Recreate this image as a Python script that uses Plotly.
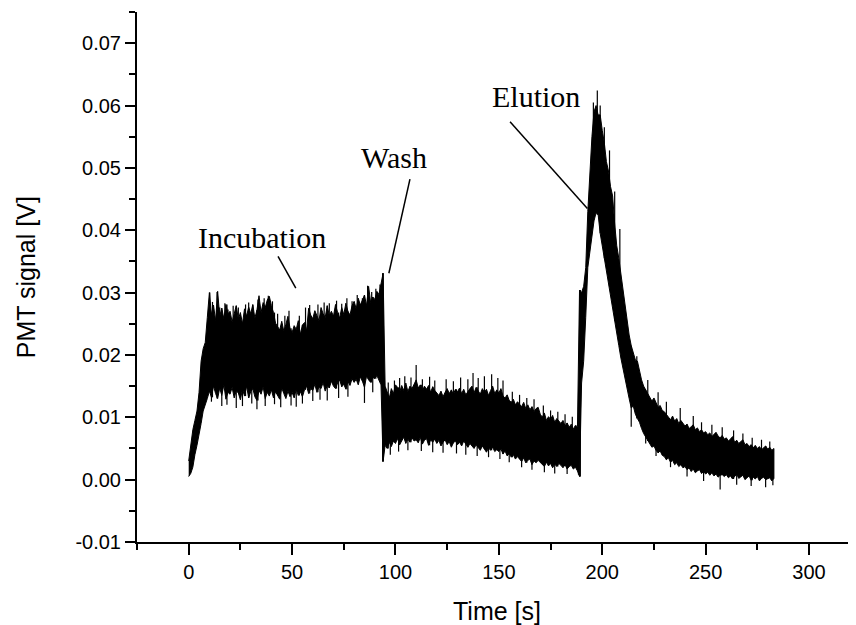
import plotly.graph_objects as go

# ---- data (envelope of the noisy PMT trace, 1 s sampling) ----
time_s = list(range(0, 284))

upper_V = [
    # 0-9 (rise)
    0.0030, 0.0060, 0.0080, 0.0095, 0.0110, 0.0140, 0.0190, 0.0210, 0.0220, 0.0260,
    # 10-19
    0.0300, 0.0265, 0.0280, 0.0255, 0.0302, 0.0262, 0.0275, 0.0258, 0.0281, 0.0266,
    # 20-29
    0.0270, 0.0253, 0.0264, 0.0279, 0.0257, 0.0268, 0.0250, 0.0274, 0.0262, 0.0277,
    # 30-39
    0.0266, 0.0281, 0.0259, 0.0272, 0.0295, 0.0268, 0.0284, 0.0276, 0.0288, 0.0294,
    # 40-49
    0.0279, 0.0268, 0.0251, 0.0246, 0.0240, 0.0254, 0.0238, 0.0249, 0.0262, 0.0243,
    # 50-59
    0.0236, 0.0247, 0.0241, 0.0255, 0.0233, 0.0248, 0.0252, 0.0239, 0.0275, 0.0264,
    # 60-69
    0.0258, 0.0271, 0.0262, 0.0255, 0.0276, 0.0266, 0.0260, 0.0279, 0.0263, 0.0270,
    # 70-79
    0.0262, 0.0281, 0.0268, 0.0259, 0.0276, 0.0265, 0.0283, 0.0270, 0.0264, 0.0279,
    # 80-89
    0.0286, 0.0274, 0.0291, 0.0280, 0.0288, 0.0296, 0.0279, 0.0310, 0.0284, 0.0293,
    # 90-99 (wash step at 94)
    0.0289, 0.0302, 0.0297, 0.0315, 0.0331, 0.0150, 0.0142, 0.0131, 0.0146, 0.0138,
    # 100-109
    0.0152, 0.0148, 0.0140, 0.0151, 0.0143, 0.0155, 0.0141, 0.0150, 0.0146, 0.0153,
    # 110-119
    0.0160, 0.0147, 0.0152, 0.0142, 0.0150, 0.0145, 0.0151, 0.0140, 0.0149, 0.0143,
    # 120-129
    0.0139, 0.0135, 0.0142, 0.0133, 0.0140, 0.0146, 0.0138, 0.0144, 0.0137, 0.0145,
    # 130-139
    0.0141, 0.0147, 0.0138, 0.0145, 0.0136, 0.0142, 0.0146, 0.0150, 0.0139, 0.0148,
    # 140-149
    0.0143, 0.0137, 0.0146, 0.0140, 0.0145, 0.0135, 0.0143, 0.0150, 0.0138, 0.0144,
    # 150-159
    0.0139, 0.0146, 0.0134, 0.0131, 0.0136, 0.0127, 0.0124, 0.0129, 0.0120, 0.0125,
    # 160-169
    0.0121, 0.0117, 0.0124, 0.0114, 0.0120, 0.0112, 0.0117, 0.0109, 0.0114, 0.0116,
    # 170-179
    0.0105, 0.0100, 0.0107, 0.0095, 0.0101, 0.0097, 0.0103, 0.0092, 0.0098, 0.0094,
    # 180-188
    0.0090, 0.0095, 0.0086, 0.0091, 0.0084, 0.0089, 0.0081, 0.0087, 0.0085,
    # 189-198 (elution)
    0.0304, 0.0300, 0.0310, 0.0340, 0.0430, 0.0500, 0.0550, 0.0590, 0.0600, 0.0585,
    # 199-208
    0.0585, 0.0560, 0.0540, 0.0510, 0.0495, 0.0470, 0.0455, 0.0410, 0.0375, 0.0355,
    # 209-219
    0.0330, 0.0310, 0.0285, 0.0255, 0.0232, 0.0215, 0.0205, 0.0192, 0.0190, 0.0172, 0.0160,
    # 220-229
    0.0150, 0.0144, 0.0137, 0.0130, 0.0126, 0.0131, 0.0122, 0.0116, 0.0119, 0.0111,
    # 230-239
    0.0109, 0.0104, 0.0101, 0.0096, 0.0102, 0.0094, 0.0098, 0.0090, 0.0095, 0.0091,
    # 240-249
    0.0086, 0.0089, 0.0082, 0.0085, 0.0088, 0.0080, 0.0083, 0.0077, 0.0080, 0.0075,
    # 250-259
    0.0077, 0.0072, 0.0075, 0.0069, 0.0073, 0.0076, 0.0070, 0.0067, 0.0071, 0.0065,
    # 260-269
    0.0067, 0.0062, 0.0065, 0.0069, 0.0060, 0.0063, 0.0058, 0.0061, 0.0064, 0.0056,
    # 270-279
    0.0058, 0.0053, 0.0056, 0.0051, 0.0055, 0.0050, 0.0053, 0.0048, 0.0051, 0.0054,
    # 280-283
    0.0049, 0.0052, 0.0047, 0.0050,
]

lower_V = [
    # 0-9
    0.0005, 0.0010, 0.0020, 0.0040, 0.0055, 0.0070, 0.0090, 0.0110, 0.0120, 0.0130,
    # 10-19
    0.0142, 0.0132, 0.0150, 0.0138, 0.0130, 0.0147, 0.0135, 0.0152, 0.0129, 0.0140,
    # 20-29
    0.0137, 0.0148, 0.0131, 0.0143, 0.0139, 0.0128, 0.0145, 0.0134, 0.0150, 0.0131,
    # 30-39
    0.0141, 0.0146, 0.0133, 0.0127, 0.0143, 0.0137, 0.0149, 0.0130, 0.0140, 0.0134,
    # 40-49
    0.0144, 0.0131, 0.0141, 0.0136, 0.0129, 0.0147, 0.0138, 0.0130, 0.0142, 0.0133,
    # 50-59
    0.0140, 0.0131, 0.0145, 0.0135, 0.0141, 0.0133, 0.0144, 0.0150, 0.0138, 0.0146,
    # 60-69
    0.0143, 0.0153, 0.0140, 0.0149, 0.0146, 0.0156, 0.0142, 0.0151, 0.0147, 0.0158,
    # 70-79
    0.0150, 0.0146, 0.0155, 0.0160, 0.0149, 0.0153, 0.0145, 0.0158, 0.0151, 0.0162,
    # 80-89
    0.0156, 0.0161, 0.0152, 0.0165, 0.0158, 0.0148, 0.0166, 0.0160, 0.0156, 0.0164,
    # 90-99
    0.0162, 0.0167, 0.0159, 0.0152, 0.0029, 0.0055, 0.0050, 0.0060, 0.0053, 0.0062,
    # 100-109
    0.0058, 0.0066, 0.0056, 0.0063, 0.0068, 0.0058, 0.0065, 0.0060, 0.0067, 0.0062,
    # 110-119
    0.0064, 0.0059, 0.0068, 0.0057, 0.0063, 0.0066, 0.0055, 0.0064, 0.0060, 0.0065,
    # 120-129
    0.0058, 0.0063, 0.0054, 0.0060, 0.0064, 0.0056, 0.0061, 0.0052, 0.0059, 0.0062,
    # 130-139
    0.0056, 0.0060, 0.0054, 0.0062, 0.0057, 0.0052, 0.0058, 0.0055, 0.0050, 0.0056,
    # 140-149
    0.0052, 0.0047, 0.0054, 0.0049, 0.0044, 0.0051, 0.0047, 0.0052, 0.0045, 0.0048,
    # 150-159
    0.0045, 0.0049, 0.0041, 0.0046, 0.0038, 0.0042, 0.0036, 0.0040, 0.0033, 0.0037,
    # 160-169
    0.0033, 0.0029, 0.0035, 0.0027, 0.0031, 0.0033, 0.0024, 0.0030, 0.0027, 0.0031,
    # 170-179
    0.0028, 0.0024, 0.0021, 0.0028, 0.0022, 0.0026, 0.0019, 0.0025, 0.0021, 0.0026,
    # 180-188
    0.0023, 0.0019, 0.0024, 0.0017, 0.0021, 0.0023, 0.0017, 0.0020, 0.0014,
    # 189-198
    0.0005, 0.0155, 0.0190, 0.0260, 0.0340, 0.0370, 0.0390, 0.0415, 0.0428, 0.0425,
    # 199-208
    0.0395, 0.0370, 0.0355, 0.0335, 0.0310, 0.0290, 0.0270, 0.0255, 0.0235, 0.0215,
    # 209-219
    0.0195, 0.0175, 0.0160, 0.0145, 0.0130, 0.0115, 0.0118, 0.0105, 0.0098, 0.0092, 0.0082,
    # 220-229
    0.0074, 0.0069, 0.0062, 0.0057, 0.0052, 0.0054, 0.0047, 0.0043, 0.0046, 0.0039,
    # 230-239
    0.0037, 0.0032, 0.0035, 0.0028, 0.0031, 0.0024, 0.0027, 0.0021, 0.0024, 0.0019,
    # 240-249
    0.0021, 0.0016, 0.0019, 0.0013, 0.0017, 0.0011, 0.0014, 0.0016, 0.0010, 0.0013,
    # 250-259
    0.0009, 0.0012, 0.0007, 0.0011, 0.0006, 0.0009, 0.0004, 0.0007, 0.0008, 0.0005,
    # 260-269
    0.0008, 0.0003, 0.0006, 0.0001, 0.0005, 0.0009, 0.0002, 0.0004, 0.0007, 0.0000,
    # 270-279
    0.0003, 0.0006, -0.0001, 0.0004, 0.0001, 0.0005, -0.0002, 0.0002, 0.0004, 0.0000,
    # 280-283
    0.0002, 0.0003, -0.0002, 0.0002,
]

# isolated noise spikes seen above / below the dense band (time s, value V)
spike_up_t = [10.2, 11.5, 13.7, 15.0, 17.5, 19.0, 21.5, 24.0, 27.5, 29.0, 31.0, 33.5,
              36.5, 38.5, 40.5, 43.0, 46.5, 48.5, 53.5, 56.5, 58.5, 62.5, 65.5, 68.0,
              71.5, 74.0, 76.5, 79.0, 81.5, 84.0, 86.5, 88.5, 90.5, 92.5, 93.8,
              96.5, 99.5, 102.0, 104.5, 107.5, 110.0, 113.0, 116.5, 119.0, 124.5, 128.0,
              131.5, 135.0, 137.5, 140.0, 143.0, 146.5, 149.5, 152.0, 156.5, 160.0,
              163.5, 167.0, 171.5, 175.0, 178.5, 182.0, 185.5, 189.3,
              195.7, 197.6, 199.0, 201.0, 203.5, 206.0, 208.5, 216.7,
              222.0, 227.0, 231.0, 237.7, 244.0, 248.0, 253.0, 258.0, 263.5, 268.0,
              272.5, 277.0, 281.0]
spike_up_V = [0.0300, 0.0285, 0.0301, 0.0276, 0.0283, 0.0273, 0.0279, 0.0276, 0.0281, 0.0284,
              0.0280, 0.0289, 0.0291, 0.0295, 0.0286, 0.0266, 0.0263, 0.0271, 0.0263, 0.0276,
              0.0280, 0.0281, 0.0284, 0.0283, 0.0287, 0.0282, 0.0291, 0.0286, 0.0296, 0.0291,
              0.0311, 0.0301, 0.0306, 0.0313, 0.0331,
              0.0156, 0.0159, 0.0163, 0.0166, 0.0164, 0.0184, 0.0161, 0.0165, 0.0159, 0.0161,
              0.0158, 0.0164, 0.0161, 0.0171, 0.0163, 0.0166, 0.0169, 0.0163, 0.0159, 0.0141,
              0.0136, 0.0131, 0.0129, 0.0119, 0.0111, 0.0109, 0.0105, 0.0101, 0.0304,
              0.0605, 0.0624, 0.0600, 0.0565, 0.0528, 0.0462, 0.0402, 0.0198,
              0.0160, 0.0140, 0.0125, 0.0115, 0.0102, 0.0092, 0.0088, 0.0084, 0.0079, 0.0074,
              0.0067, 0.0064, 0.0061]
spike_dn_t = [11.0, 16.0, 18.5, 23.0, 26.0, 30.5, 33.0, 37.0, 41.5, 44.5, 49.5, 52.0,
              55.0, 60.0, 63.5, 67.0, 72.5, 77.0, 85.0, 89.0, 94.0,
              97.5, 101.5, 106.0, 112.5, 118.0, 123.0, 129.5, 134.0, 139.5, 145.0, 150.5,
              155.0, 161.0, 166.0, 172.0, 177.0, 183.0, 188.5, 189.3,
              214.0, 221.0, 226.0, 233.0, 241.0, 249.0, 257.0, 265.0, 272.0, 279.0, 282.5]
spike_dn_V = [0.0125, 0.0118, 0.0120, 0.0115, 0.0118, 0.0122, 0.0113, 0.0118, 0.0121, 0.0116,
              0.0119, 0.0117, 0.0122, 0.0126, 0.0128, 0.0127, 0.0131, 0.0133, 0.0123, 0.0140,
              0.0029,
              0.0040, 0.0045, 0.0047, 0.0046, 0.0044, 0.0043, 0.0042, 0.0040, 0.0038, 0.0036,
              0.0033, 0.0028, 0.0020, 0.0016, 0.0012, 0.0010, 0.0009, 0.0008, 0.0005,
              0.0085, 0.0058, 0.0038, 0.0020, 0.0005, -0.0002, -0.0016, -0.0008, -0.0010,
              -0.0012, -0.0009]

x_tick_vals = [0, 50, 100, 150, 200, 250, 300]
x_tick_text = ["0", "50", "100", "150", "200", "250", "300"]
y_tick_vals = [-0.01, 0.00, 0.01, 0.02, 0.03, 0.04, 0.05, 0.06, 0.07]
y_tick_text = ["-0.01", "0.00", "0.01", "0.02", "0.03", "0.04", "0.05", "0.06", "0.07"]

labels = ["Incubation", "Wash", "Elution"]

assert len(upper_V) == len(time_s) == len(lower_V)
assert len(spike_up_t) == len(spike_up_V) and len(spike_dn_t) == len(spike_dn_V)

# ---- figure ----
fig = go.Figure()
fig.add_trace(go.Scatter(
    x=time_s + time_s[::-1],
    y=upper_V + lower_V[::-1],
    mode="lines", fill="toself", fillcolor="black",
    line=dict(color="black", width=1),
    hoverinfo="skip", showlegend=False,
))


def spike_path(ts, vs, edge):
    xs, ys = [], []
    for t, v in zip(ts, vs):
        i = min(range(len(time_s)), key=lambda k: abs(time_s[k] - t))
        xs += [t, t, None]
        ys += [edge[i], v, None]
    return xs, ys


sx_u, sy_u = spike_path(spike_up_t, spike_up_V, lower_V)
sx_d, sy_d = spike_path(spike_dn_t, spike_dn_V, upper_V)
fig.add_trace(go.Scatter(x=sx_u + sx_d, y=sy_u + sy_d, mode="lines",
                         line=dict(color="black", width=1.2),
                         hoverinfo="skip", showlegend=False))

tick_font = dict(family="Liberation Sans, Arial, sans-serif", size=20, color="black")
axis_common = dict(
    showline=True, linecolor="black", linewidth=2,
    ticks="outside", tickcolor="black", tickwidth=2,
    showgrid=False, zeroline=False, tickfont=tick_font,
)

fig.update_xaxes(
    range=[-25, 322.7], tickvals=x_tick_vals, ticktext=x_tick_text,
    ticklen=11, minor=dict(dtick=25, tick0=0, ticks="outside", ticklen=6,
                           tickwidth=2, tickcolor="black", showgrid=False),
    **axis_common,
)
fig.update_yaxes(
    range=[-0.01, 0.075], tickvals=y_tick_vals, ticktext=y_tick_text,
    ticklen=10, minor=dict(dtick=0.005, tick0=0, ticks="outside", ticklen=6,
                           tickwidth=2, tickcolor="black", showgrid=False),
    **axis_common,
)

title_font = dict(family="Liberation Sans, Arial, sans-serif", size=25, color="black")
label_font = dict(family="Liberation Serif, Times New Roman, serif", size=30, color="black")

annotations = [
    dict(text="Time [s]", xref="paper", yref="paper", x=0.5, y=-0.13,
         xanchor="center", yanchor="middle", showarrow=False, font=title_font),
    dict(text="PMT signal [V]", xref="paper", yref="paper", x=-0.154, y=0.5,
         xanchor="center", yanchor="middle", textangle=-90, showarrow=False, font=title_font),
    dict(text=labels[0], x=35.6, y=0.0388, xref="x", yref="y",
         xanchor="center", yanchor="middle", showarrow=False, font=label_font),
    dict(text=labels[1], x=99.2, y=0.0516, xref="x", yref="y",
         xanchor="center", yanchor="middle", showarrow=False, font=label_font),
    dict(text=labels[2], x=168, y=0.0614, xref="x", yref="y",
         xanchor="center", yanchor="middle", showarrow=False, font=label_font),
]

shapes = [
    dict(type="line", x0=43.2, y0=0.0358, x1=51.8, y1=0.0307, xref="x", yref="y",
         line=dict(color="black", width=1.5)),
    dict(type="line", x0=107.0, y0=0.0482, x1=96.8, y1=0.0331, xref="x", yref="y",
         line=dict(color="black", width=1.5)),
    dict(type="line", x0=155.4, y0=0.0574, x1=192.8, y1=0.0435, xref="x", yref="y",
         line=dict(color="black", width=1.5)),
]

# the page body adds an 8 px offset, so the figure is 8 px smaller and margins shifted
fig.update_layout(
    width=848, height=617,
    margin=dict(l=129, r=0, t=4, b=83),
    paper_bgcolor="white", plot_bgcolor="white",
    annotations=annotations, shapes=shapes,
    showlegend=False,
)

fig.write_html("out.html")
